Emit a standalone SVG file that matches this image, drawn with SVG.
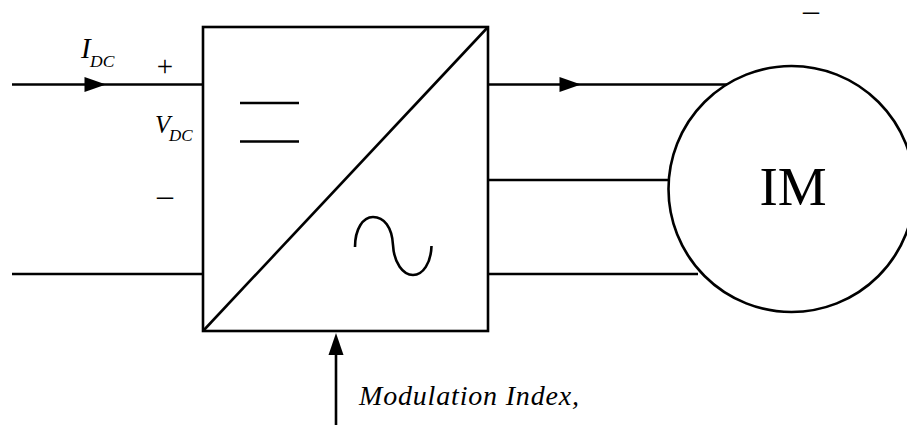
<svg xmlns="http://www.w3.org/2000/svg" width="907" height="425" viewBox="0 0 907 425">
<style>
.l{fill:none;stroke:#000;stroke-width:2.6;stroke-linecap:butt}
.a{fill:#000;stroke:none}
text{font-family:"Liberation Serif","Times New Roman",serif;fill:#000}
.i{font-style:italic}
</style>
<rect width="907" height="425" fill="#fff"/>
<g id="connectors">
<path class="l" d="M12 84.5H203"/>
<path class="a" d="M84.500 77L106 84.500L84.500 92Z"/>
<path class="l" d="M12 274H203"/>
<path class="l" d="M488 84.500H727"/>
<path class="a" d="M559.500 77L581 84.500L559.500 92Z"/>
<path class="l" d="M488 180H669"/>
<path class="l" d="M488 274H698"/>
<path class="l" d="M336 425V352"/>
<path class="a" d="M328.500 355L336 333L343.500 355Z"/>
</g>
<g id="converter">
<rect class="l" x="203" y="27" width="285" height="304"/>
<path class="l" d="M203 331L488 27"/>
<path class="l" d="M240 103H299M240 141.500H299"/>
<path class="l" d="M355 247C355 229 363 217 373 217C384 217 392 227 393 245C394 263 403 275 413 275C423 275 431 263 431.500 246"/>
</g>
<g id="motor">
<circle class="l" cx="791.500" cy="189" r="123"/>
<text x="793" y="205" font-size="55" text-anchor="middle">IM</text>
</g>
<g id="labels">
<text class="i" x="81" y="58" font-size="29">I</text>
<text class="i" x="90" y="67" font-size="17.5">DC</text>
<text x="165" y="76" font-size="29" text-anchor="middle">+</text>
<text class="i" x="155" y="133" font-size="25">V</text>
<text class="i" x="169" y="141" font-size="17">DC</text>
<text x="165" y="206" font-size="32" text-anchor="middle">–</text>
<text x="811" y="20.500" font-size="32" text-anchor="middle">–</text>
<text class="i" x="359" y="405" font-size="28" textLength="220">Modulation Index,</text>
</g>
</svg>
